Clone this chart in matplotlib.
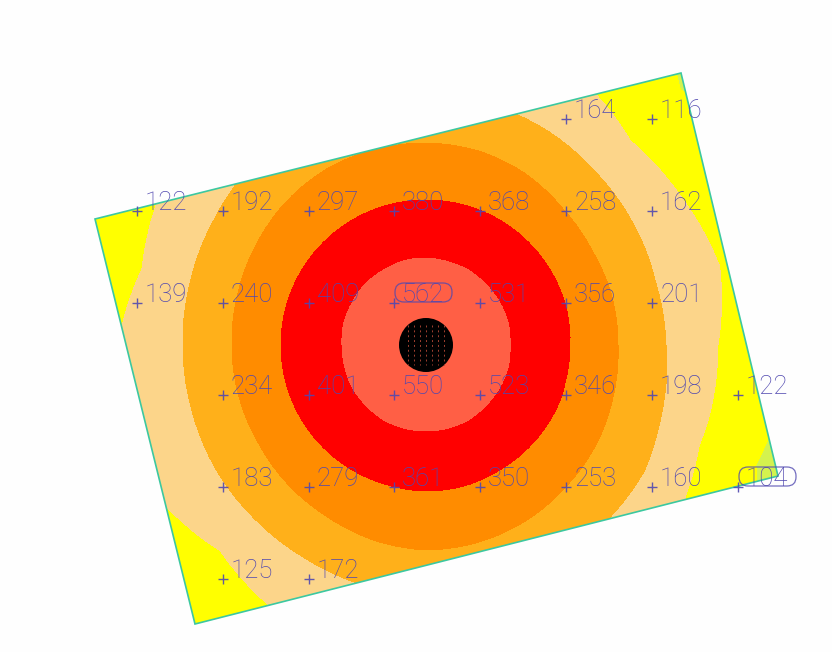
import numpy as np
import matplotlib
matplotlib.use("Agg")
import matplotlib.pyplot as plt
from matplotlib.patches import Polygon, Circle, FancyBboxPatch

# measuring grid (picture coordinates) and the values written on it
grid_x = [566, 652,
          137, 223, 309, 394, 480, 566, 652,
          137, 223, 309, 394, 480, 566, 652,
          223, 309, 394, 480, 566, 652, 738,
          223, 309, 394, 480, 566, 652, 738,
          223, 309]
grid_y = [119, 119,
          211, 211, 211, 211, 211, 211, 211,
          303, 303, 303, 303, 303, 303, 303,
          395, 395, 395, 395, 395, 395, 395,
          487, 487, 487, 487, 487, 487, 487,
          579, 579]
grid_val = [164, 116,
            122, 192, 297, 380, 368, 258, 162,
            139, 240, 409, 562, 531, 356, 201,
            234, 401, 550, 523, 346, 198, 122,
            183, 279, 361, 350, 253, 160, 104,
            125, 172]
circled = [562, 104]

plate_x = [95, 681, 778, 195]
plate_y = [219, 73, 476, 624]

lamp_x, lamp_y, lamp_r = 426, 345, 27

# isolines: distance from the lamp for each direction
angles = [0, 15, 30, 45, 60, 75, 90, 105, 120, 135, 150, 165, 180, 195, 210, 225, 240, 255,
          270, 285, 300, 315, 330, 340, 345, 360]
r_500 = [84, 85, 85, 85, 86, 86, 87, 87, 86, 86, 85, 85, 84, 84, 85, 85, 86, 86,
         86, 86, 86, 85, 85, 85, 85, 84]
r_350 = [144, 145, 145, 145, 145, 145, 145, 145, 145, 145, 145, 145, 145, 145, 145, 145, 145, 145,
         146, 146, 145, 145, 145, 145, 144, 144]
r_250 = [192, 192, 191, 193, 198, 201, 202, 202, 202, 200, 197, 195, 194, 194, 194, 196, 198, 202,
         205, 204, 202, 199, 197, 195, 194, 192]
r_200 = [240, 238, 240, 242, 246, 249, 250, 250, 250, 250, 246, 244, 243, 243, 244, 244, 245, 248,
         250, 250, 250, 252, 252, 247, 245, 240]
r_135 = [292, 304, 295, 289, 308, 340, 340, 340, 340, 340, 306, 294, 308, 330, 308, 291, 305, 340,
         360, 360, 360, 350, 300, 291, 292, 292]
r_100 = [420, 420, 420, 360, 420, 420, 420, 420, 420, 420, 420, 420, 420, 420, 420, 420, 420, 420,
         420, 420, 420, 420, 380, 351, 355, 420]
r_edge = [520] * len(angles)

lamp_val = 640
levels = [40, 100, 135, 200, 250, 350, 500, 700]
band_colors = ["#d4f24e", "#ffff00", "#fcd58a", "#ffb01a", "#ff8c00", "#ff0000", "#ff5f45"]

ring_vals = [lamp_val, 500, 350, 250, 200, 135, 100, 60]
rings = [[0] * len(angles), r_500, r_350, r_250, r_200, r_135, r_100, r_edge]

# arcs between the read directions, otherwise the rings come out as polygons
fine_angles = np.unique(np.r_[np.arange(0, 361, 3), angles])
R = np.array([np.interp(fine_angles, angles, r) for r in rings], dtype=float)
theta = np.radians(fine_angles)
X = lamp_x + R * np.cos(theta)
Y = lamp_y - R * np.sin(theta)
Z = np.array(ring_vals, dtype=float)[:, None] * np.ones_like(R)

fig = plt.figure(figsize=(8.32, 6.52), dpi=100)
ax = fig.add_axes([0, 0, 1, 1])
ax.set_xlim(0, 832)
ax.set_ylim(652, 0)
ax.axis("off")

cs = ax.contourf(X, Y, Z, levels=levels, colors=band_colors, zorder=1)

plate_xy = np.column_stack([plate_x, plate_y])
clip = Polygon(plate_xy, closed=True, transform=ax.transData)
cs.set_clip_path(clip)
ax.add_patch(Polygon(plate_xy, closed=True, fill=False, ec="#3cc8a0", lw=1.2, zorder=2))

# lamp
ax.add_patch(Circle((lamp_x, lamp_y), lamp_r, fc="black", ec="none", zorder=3))
for dx in [-18, -12, -6, 0, 6, 12, 18]:
    ax.plot([lamp_x + dx] * 2, [lamp_y - 20, lamp_y + 20], color="#a04030", lw=0.7,
            ls=(0, (2, 3)), zorder=4)

text_col = "#5048b0"
ax.plot(grid_x, grid_y, "+", color=text_col, ms=7.5, mew=1.0, alpha=0.9, zorder=5)
for x, y, v in zip(grid_x, grid_y, grid_val):
    ax.text(x + 8, y - 1, str(v), color=text_col, fontsize=18.5, family="Roboto", fontweight="light",
            ha="left", va="baseline", zorder=5)
    if v in circled:
        ax.add_patch(FancyBboxPatch((x + 10, y - 11), 39, 1, boxstyle="round,pad=9",
                                    fc="none", ec=text_col, lw=0.9, alpha=0.8, zorder=5))

fig.savefig("out.png", dpi=100, facecolor="#fefefe")
